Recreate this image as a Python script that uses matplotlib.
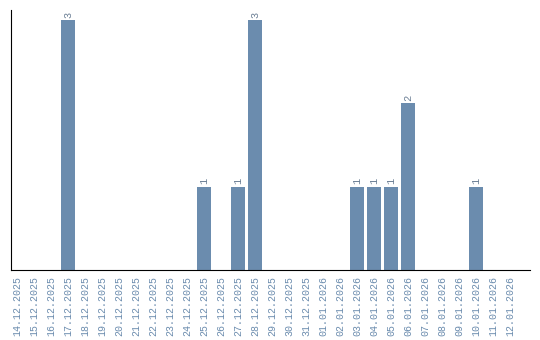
import matplotlib.pyplot as plt
import pandas as pd

# daily counts
dates = pd.date_range('2025-12-14', '2026-01-12', freq='D')
labels = [d.strftime('%d.%m.%Y') for d in dates]
counts = [0, 0, 0, 3, 0, 0, 0, 0, 0, 0, 0, 1, 0, 1, 3, 0, 0, 0, 0, 0,
          1, 1, 1, 2, 0, 0, 0, 1, 0, 0]

bar_color = '#6b8cae'

fig = plt.figure(figsize=(5.4, 3.4), dpi=100)
ax = fig.add_axes([11/540, 70/340, 519/540, 260/340])

x = list(range(len(labels)))
ax.bar(x, counts, width=0.82, color=bar_color)

for i, c in enumerate(counts):
    if c > 0:
        ax.text(i, c + 0.03, str(c), rotation=90, ha='center', va='bottom',
                fontsize=7.5, family='Liberation Mono', color='#6b7f95')

ax.set_xlim(-0.35, 30.18)
ax.set_ylim(0, 3.12)
ax.set_xticks(x)
ax.set_xticklabels(labels, rotation=90, fontsize=7.2, family='Liberation Mono',
                   color=bar_color)
ax.tick_params(axis='x', length=0, pad=4)
ax.set_yticks([])
ax.spines['top'].set_visible(False)
ax.spines['right'].set_visible(False)

plt.savefig('out.png', dpi=100)
